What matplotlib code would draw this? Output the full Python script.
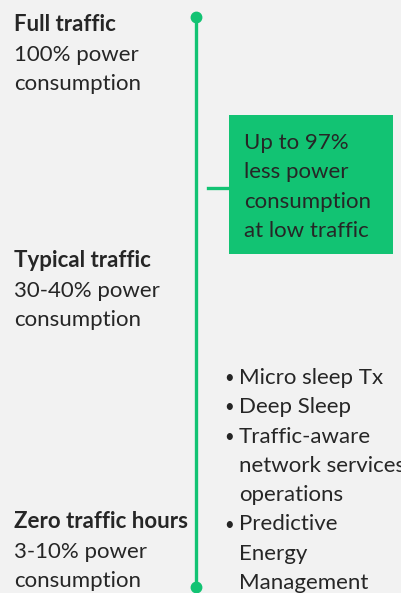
import matplotlib.pyplot as plt
from matplotlib.patches import Rectangle

# data
stage_titles = ["Full traffic", "Typical traffic", "Zero traffic hours"]
stage_lines = [["100% power", "consumption"],
               ["30-40% power", "consumption"],
               ["3-10% power", "consumption"]]
stage_y = [31, 267, 528]          # baseline of the title line (px)

box_lines = ["Up to 97%", "less power", "consumption", "at low traffic"]
bullets = [["Micro sleep Tx"], ["Deep Sleep"],
           ["Traffic-aware", "network services", "operations"],
           ["Predictive", "Energy", "Management"]]

green = "#12c373"
ink = "#262626"
bg = "#f2f2f2"
fs = 16
step = 29

plt.rcParams['font.family'] = ['Lato', 'DejaVu Sans']

fig = plt.figure(figsize=(4.01, 5.93), dpi=100)
fig.patch.set_facecolor(bg)
ax = fig.add_axes([0, 0, 1, 1])
ax.set_xlim(0, 401)
ax.set_ylim(593, 0)
ax.axis('off')

# timeline
ax.plot([196, 196], [17, 587], color=green, lw=2.4, solid_capstyle='butt')
ax.plot([196, 196], [17, 587], 'o', color=green, ms=7.5)

# left labels
for t, lines, y in zip(stage_titles, stage_lines, stage_y):
    ax.text(14, y, t, fontsize=fs, fontweight='bold', color=ink, va='baseline')
    for i, ln in enumerate(lines):
        ax.text(14, y + step * (i + 1) + 1, ln, fontsize=fs, color=ink, va='baseline')

# green callout box
ax.plot([208, 229], [188, 188], color=green, lw=2.4)
ax.add_patch(Rectangle((229, 115), 164, 139, color=green, lw=0))
for i, ln in enumerate(box_lines):
    ax.text(244, 149 + 29.3 * i, ln, fontsize=fs, color=ink, va='baseline')

# bullet list
y = 384
for item in bullets:
    ax.text(229.5, y - 6, "\u2022", fontsize=fs * 0.75, color=ink,
            ha='center', va='center')
    for ln in item:
        ax.text(239, y, ln, fontsize=fs, color=ink, va='baseline')
        y += 29.3

fig.savefig("out.png", dpi=100, facecolor=bg)
